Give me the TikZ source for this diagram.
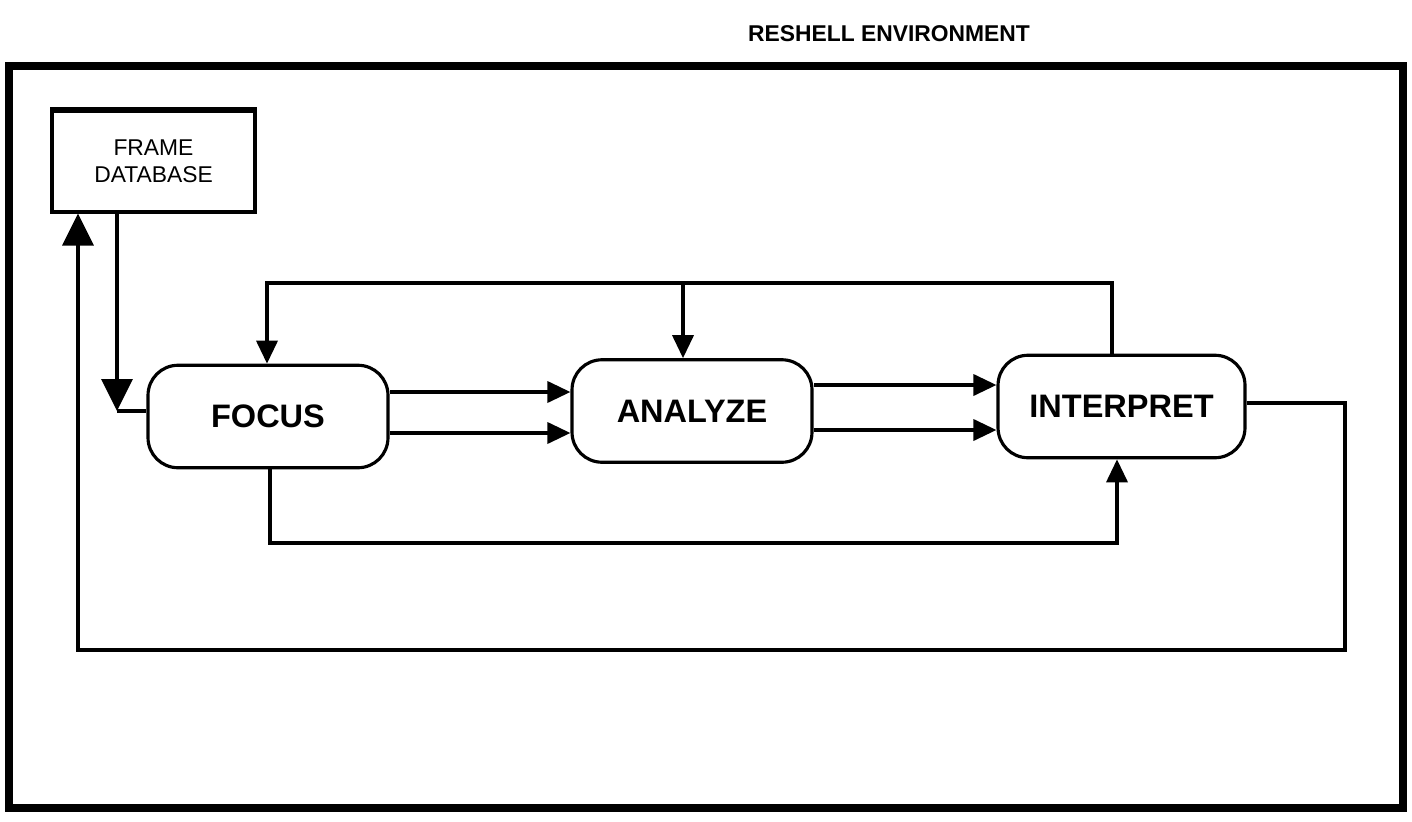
\documentclass[tikz,border=0pt]{standalone}
\usepackage{fontspec}
\setsansfont{Liberation Sans}
\usetikzlibrary{arrows.meta}

\begin{document}
\begin{tikzpicture}[x=0.02cm,y=-0.02cm]
        \tikzset{stage/.style={draw,line width=1.8pt,rounded corners=0.6cm,
                minimum width=4.8cm,minimum height=2.05cm,
                font=\sffamily\bfseries\fontsize{18.5}{20}\selectfont},
            store/.style={draw,line width=1.8pt,minimum width=4.06cm,minimum height=2.02cm,
                align=center,font=\sffamily\fontsize{13}{15.5}\selectfont},
            flow/.style={draw,line width=2pt},
            tip/.style={-{Triangle[length=0.46cm,width=0.42cm]}},
            bigtip/.style={-{Triangle[length=0.64cm,width=0.62cm]}}}
        \useasboundingbox (0,0) rectangle (1412,821);
        % outer frame and title
        \draw[line width=5pt] (9,66) rectangle (1403,808);
        \node[font=\sffamily\bfseries\fontsize{13}{15}\selectfont] (title) at (889,34) {RESHELL ENVIRONMENT};
        % boxes
        \node[store] (db) at (153.5,161.5) {FRAME\\DATABASE};
        \draw[line width=3pt] (db.north west) -- (db.north east);
        \node[stage] (focus) at (268,416.5) {FOCUS};
        \node[stage] (analyze) at (692,411) {ANALYZE};
        \node[stage,minimum width=4.94cm] (interp) at (1121.5,406.5) {INTERPRET};
        % corners of the loops
        \coordinate (dbin) at (117,411);
        \coordinate (topR) at (1112,283);
        \coordinate (topL) at (267,283);
        \coordinate (topM) at (683,283);
        \coordinate (botL) at (270,543);
        \coordinate (botR) at (1117,543);
        \coordinate (outR) at (1345,403);
        \coordinate (outB) at (1345,650);
        \coordinate (outL) at (78,650);
        % database to focus
        \draw[flow,bigtip] (db.south -| dbin) -- (dbin);
        \draw[flow] (dbin) -- (dbin -| focus.west);
        % focus to analyze to interpret
        \draw[flow,tip] (focus.east |- 0,392) -- (analyze.west |- 0,392);
        \draw[flow,tip] (focus.east |- 0,433) -- (analyze.west |- 0,433);
        \draw[flow,tip] (analyze.east |- 0,385) -- (interp.west |- 0,385);
        \draw[flow,tip] (analyze.east |- 0,430) -- (interp.west |- 0,430);
        % top loop
        \draw[flow,tip] (topR |- interp.north) -- (topR) -- (topL) -- (topL |- focus.north);
        \draw[flow,tip] (topM) -- (topM |- analyze.north);
        % bottom loop
        \draw[flow,tip] (botL |- focus.south) -- (botL) -- (botR) -- (botR |- interp.south);
        % back to the database
        \draw[flow,bigtip] (interp.east |- outR) -- (outR) -- (outB) -- (outL) -- (outL |- db.south);
\end{tikzpicture}
\end{document}
